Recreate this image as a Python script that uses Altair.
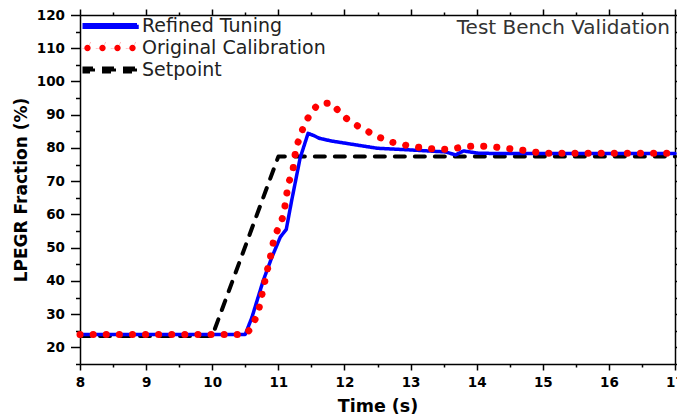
import altair as alt
import pandas as pd

series_names = ["Refined Tuning", "Original Calibration", "Setpoint"]

setpoint_t = [8.0, 10.0, 11.0, 17.0]
setpoint_v = [23.4, 23.4, 77.4, 77.4]

refined_t = [8.0, 10.5, 10.6, 10.77, 10.9, 11.03, 11.12, 11.2, 11.33, 11.45,
             11.55, 11.62, 11.8, 12.02, 12.5, 13.0, 13.53, 13.68, 13.8, 14.03, 14.5, 17.0]
refined_v = [23.9, 23.9, 29.0, 40.0, 47.0, 53.2, 55.5, 64.0, 77.0, 84.4,
             83.6, 82.9, 82.1, 81.4, 79.9, 79.4, 78.8, 77.9, 79.1, 78.4, 78.3, 78.3]

original_t = [8.0, 10.5, 10.6, 10.7, 10.83, 10.87, 10.94, 11.02, 11.08, 11.13, 11.17,
              11.22, 11.27, 11.34, 11.39, 11.49, 11.6, 11.8, 11.96, 12.11, 12.48,
              12.7, 12.93, 13.15, 13.38, 13.6, 13.82, 14.03, 14.3, 14.7, 15.0, 17.0]
original_v = [23.9, 23.9, 26.0, 31.0, 43.0, 46.2, 53.2, 56.7, 59.8, 66.5, 70.3,
              73.3, 80.3, 83.9, 87.1, 90.4, 93.2, 93.6, 90.0, 87.6, 83.6,
              81.8, 80.8, 80.1, 79.6, 79.6, 80.4, 80.6, 80.2, 79.3, 78.4, 78.4]

x_major = [8, 9, 10, 11, 12, 13, 14, 15, 16, 17]
x_minor = [8.5, 9.5, 10.5, 11.5, 12.5, 13.5, 14.5, 15.5, 16.5]
y_major = [20, 30, 40, 50, 60, 70, 80, 90, 100, 110, 120]
y_minor = [15, 25, 35, 45, 55, 65, 75, 85, 95, 105, 115]

colors = ["#0000ff", "#ff0000", "#000000"]
dashes = [[1, 0], [0.1, 13], [10, 10]]
widths = [3.5, 7, 4]


# ---- legend glyphs (custom symbol paths; unit box scaled by sqrt(size)/2) ----
def rect(x0, x1, h):
    return f"M{x0:.3f},{-h:.3f}H{x1:.3f}V{h:.3f}H{x0:.3f}Z"


def circ(c, r):
    return (f"M{c - r:.3f},0a{r:.3f},{r:.3f} 0 1,0 {2 * r:.3f},0"
            f"a{r:.3f},{r:.3f} 0 1,0 {-2 * r:.3f},0Z")


U = 4.5  # pixels per path unit (sqrt(81)/2)
solid_path = rect(-27 / U, 27 / U, 1.3 / U)
dot_path = "".join(circ(c / U, 3.2 / U) for c in (-22.5, -7.5, 7.5, 22.5))
dash_path = "".join(rect(a / U, b / U, 1.5 / U) for a, b in ((-27, -15), (-6, 6), (15, 27)))
glyphs = [solid_path, dot_path, dash_path]

frames = []
for name, t, v in [(series_names[2], setpoint_t, setpoint_v),
                   (series_names[0], refined_t, refined_v),
                   (series_names[1], original_t, original_v)]:
    frames.append(pd.DataFrame({"series": name, "t": t, "v": v, "i": range(len(t))}))
df = pd.concat(frames, ignore_index=True)

FONT = "DejaVu Sans"
x_scale = alt.Scale(domain=[8, 17], nice=False, zero=False)
y_scale = alt.Scale(domain=[15, 120], nice=False, zero=False)
color_scale = alt.Scale(domain=series_names, range=colors)
tickstyle = dict(tickColor="black", tickWidth=1.5, grid=False)
common = dict(domainColor="black", domainWidth=1.5, **tickstyle)

legend = alt.Legend(title=None, orient="none", legendX=2.5, legendY=0,
                    symbolSize=81, symbolStrokeWidth=0, symbolOffset=18,
                    labelFont=FONT, labelFontSize=19,
                    labelColor="#222222", labelOffset=22.5, labelLimit=0,
                    clipHeight=22, rowPadding=0, padding=0)

base = alt.Chart(df)

legend_layer = base.transform_filter("false").mark_point(filled=True, size=81, opacity=1, strokeWidth=0).encode(
    x=alt.X("t:Q", scale=x_scale, axis=None),
    y=alt.Y("v:Q", scale=y_scale, axis=None),
    color=alt.Color("series:N", scale=color_scale, legend=legend),
    shape=alt.Shape("series:N", scale=alt.Scale(domain=series_names, range=glyphs), legend=legend),
)

lines = base.mark_line(strokeCap="round", strokeJoin="round").encode(
    x=alt.X("t:Q", scale=x_scale, axis=alt.Axis(
        orient="bottom", values=x_major, tickSize=6, labelFont=FONT, labelFontSize=13.5,
        labelFontWeight="bold", labelColor="black", labelPadding=5, format="d",
        labelFlush=False, labelOverlap=False, title="Time (s)", titleFont=FONT,
        titleFontSize=17.5, titleFontWeight="bold", titleColor="black", titlePadding=9,
        **common)),
    y=alt.Y("v:Q", scale=y_scale, axis=alt.Axis(
        orient="left", values=y_major, tickSize=9.5, labelFont=FONT, labelFontSize=13.5,
        labelFontWeight="bold", labelColor="black", labelPadding=6, format="d",
        labelFlush=False, labelOverlap=False, title="LPEGR Fraction (%)", titleFont=FONT,
        titleFontSize=17, titleFontWeight="bold", titleColor="black", titlePadding=6,
        **common)),
    color=alt.Color("series:N", scale=color_scale, legend=None),
    strokeDash=alt.StrokeDash("series:N", scale=alt.Scale(domain=series_names, range=dashes), legend=None),
    strokeWidth=alt.StrokeWidth("series:N", scale=alt.Scale(type="ordinal", domain=series_names, range=widths), legend=None),
    detail="series:N",
    order="i:Q",
)


def ghost(xaxis, yaxis):
    return base.mark_line(opacity=0).encode(
        x=alt.X("t:Q", scale=x_scale, axis=xaxis),
        y=alt.Y("v:Q", scale=y_scale, axis=yaxis),
        detail="series:N",
    )


minor_b = alt.Axis(orient="bottom", values=x_minor, tickSize=3, labels=False, domain=False, title=None, **tickstyle)
minor_l = alt.Axis(orient="left", values=y_minor, tickSize=4.5, labels=False, domain=False, title=None, **tickstyle)
top_major = alt.Axis(orient="top", values=x_major, tickSize=6, labels=False, title=None, **common)
right_major = alt.Axis(orient="right", values=y_major, tickSize=6, labels=False, title=None, **common)
top_minor = alt.Axis(orient="top", values=x_minor, tickSize=3, labels=False, domain=False, title=None, **tickstyle)
right_minor = alt.Axis(orient="right", values=y_minor, tickSize=3, labels=False, domain=False, title=None, **tickstyle)

chart = alt.layer(
    legend_layer,
    ghost(minor_b, minor_l),
    ghost(top_major, right_major),
    ghost(top_minor, right_minor),
    lines,
).resolve_axis(x="independent", y="independent").properties(
    width=595, height=349,
    autosize=alt.AutoSizeParams(type="none"),
    padding={"left": 80, "top": 15, "right": 2, "bottom": 53},
    title=alt.TitleParams(text="Test Bench Validation", anchor="end", orient="top",
                          frame="group", offset=-30, dx=-5, font=FONT, fontSize=20,
                          fontWeight="normal", color="#333333"),
).configure_view(stroke=None).configure(background="white")

chart.save("out.html", embed_options={"renderer": "svg", "actions": False})
